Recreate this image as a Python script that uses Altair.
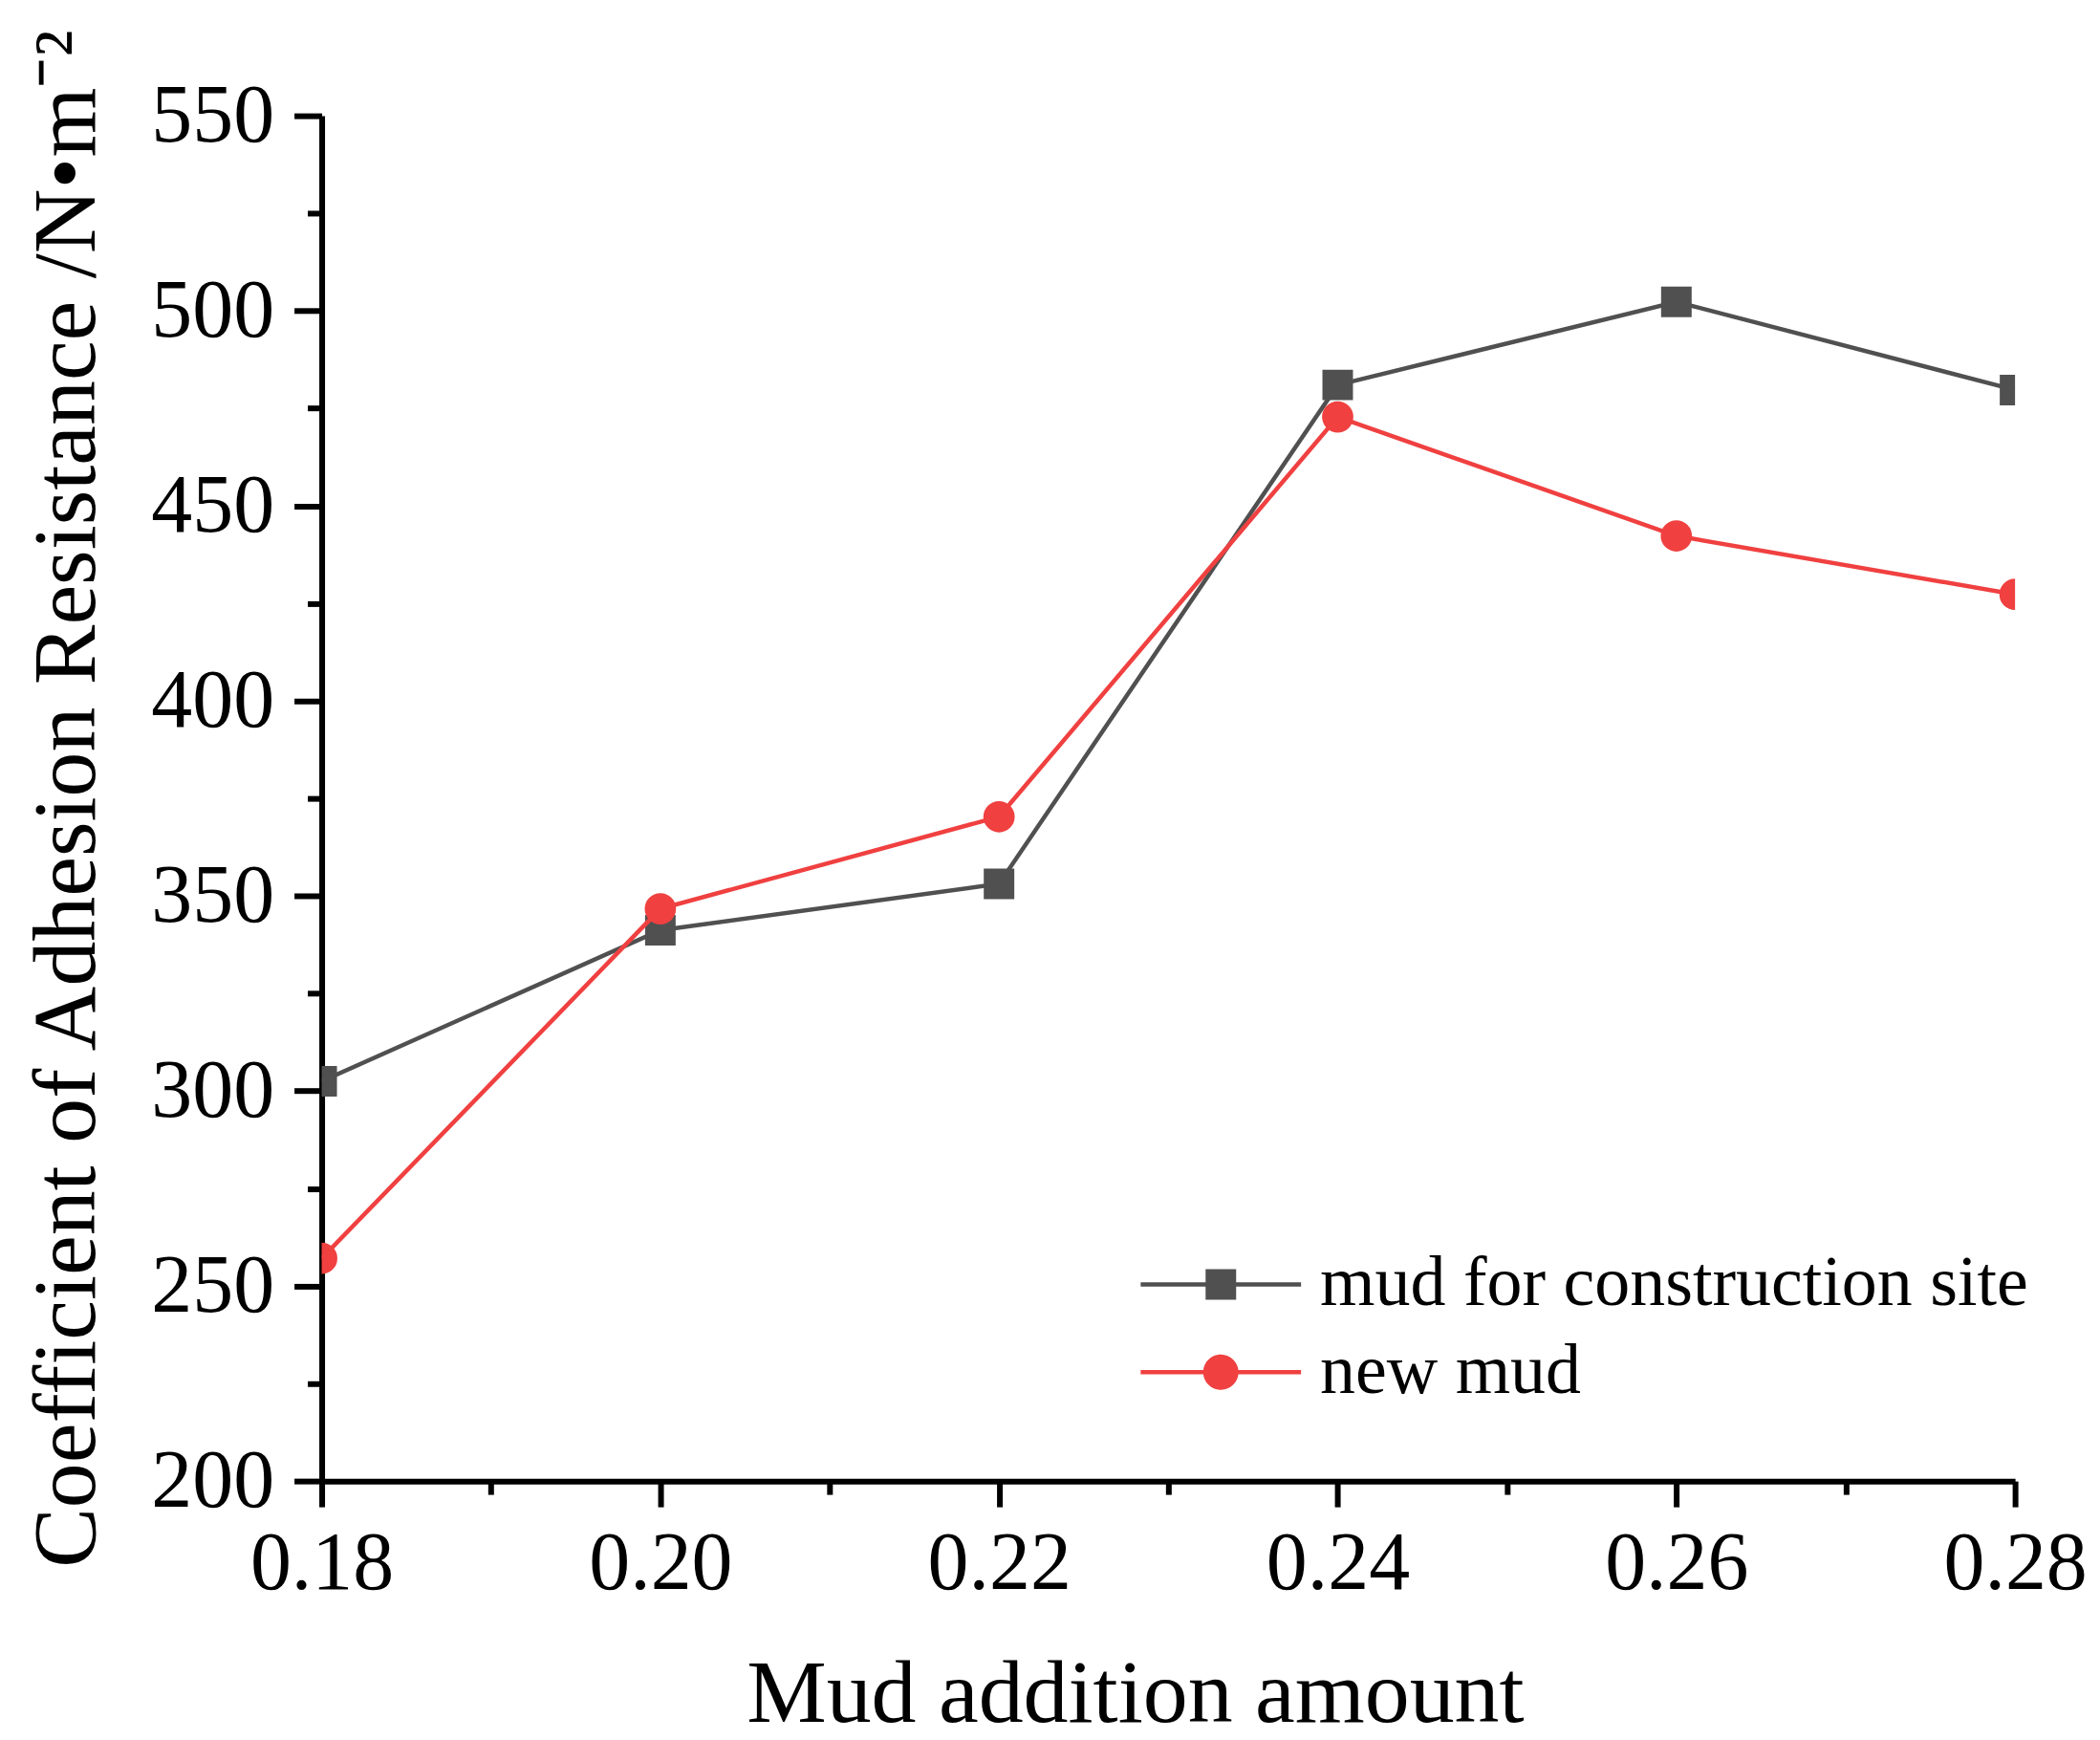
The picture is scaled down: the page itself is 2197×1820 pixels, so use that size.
import altair as alt
import pandas as pd

# ---- data ----
x_vals = [0.18, 0.20, 0.22, 0.24, 0.26, 0.28]
site_vals = [302.5, 341.2, 353.1, 481.0, 502.3, 479.7]
new_vals = [257.1, 346.7, 370.3, 472.8, 442.3, 427.3]
series_names = ["mud for construction site", "new mud"]
series_colors = ["#505050", "#F04040"]

x_major = [0.18, 0.20, 0.22, 0.24, 0.26, 0.28]
x_minor = [0.19, 0.21, 0.23, 0.25, 0.27]
y_major = [200, 250, 300, 350, 400, 450, 500, 550]
y_minor = [225, 275, 325, 375, 425, 475, 525]

x_title = "Mud addition amount"
y_title = "Coefficient of Adhesion Resistance /N\u2022m\u207b\u00b2"

df = pd.DataFrame({
    "x": x_vals + x_vals,
    "y": site_vals + new_vals,
    "series": [series_names[0]] * len(x_vals) + [series_names[1]] * len(x_vals),
})

FONT = "Liberation Serif"
color_scale = alt.Scale(domain=series_names, range=series_colors)
xs = alt.Scale(domain=[0.18, 0.28], nice=False, zero=False)
ys = alt.Scale(domain=[200, 550], nice=False, zero=False)

x_axis_main = alt.Axis(
    orient="bottom", values=x_major, format=".2f", grid=False,
    tickSize=27, tickWidth=6, tickColor="black", domainWidth=6, domainColor="black",
    labelFont=FONT, labelFontSize=86, labelColor="black", labelPadding=18,
    labelFlush=False, labelOverlap=False,
    title=x_title, titleFont=FONT, titleFontSize=94, titleFontWeight="normal",
    titleColor="black", titlePadding=48, titleX=852,
)
y_axis_main = alt.Axis(
    orient="left", values=y_major, format="d", grid=False,
    tickSize=29, tickWidth=6, tickColor="black", domainWidth=6, domainColor="black",
    labelFont=FONT, labelFontSize=86, labelColor="black", labelPadding=21,
    labelFlush=False, labelOverlap=False,
    title=y_title, titleFont=FONT, titleFontSize=94, titleFontWeight="normal",
    titleColor="black", titlePadding=39,
)
x_axis_minor = alt.Axis(orient="bottom", values=x_minor, labels=False, domain=False,
                        grid=False, tickSize=14, tickWidth=6, tickColor="black", title=None)
y_axis_minor = alt.Axis(orient="left", values=y_minor, labels=False, domain=False,
                        grid=False, tickSize=15, tickWidth=6, tickColor="black", title=None)

base = alt.Chart(df)

line_a = base.transform_filter(alt.datum.series == series_names[0]).mark_line(
    strokeWidth=4.5, clip=True).encode(
    x=alt.X("x:Q", scale=xs, axis=x_axis_main),
    y=alt.Y("y:Q", scale=ys, axis=y_axis_main),
    color=alt.Color("series:N", scale=color_scale, legend=None),
)
squares = base.transform_filter(alt.datum.series == series_names[0]).mark_square(
    size=1024, opacity=1, clip=True).encode(
    x=alt.X("x:Q", scale=xs, axis=x_axis_minor),
    y=alt.Y("y:Q", scale=ys, axis=y_axis_minor),
    color=alt.Color("series:N", scale=color_scale, legend=None),
)
line_b = base.transform_filter(alt.datum.series == series_names[1]).mark_line(
    strokeWidth=4.5, clip=True).encode(
    x=alt.X("x:Q", scale=xs, axis=None),
    y=alt.Y("y:Q", scale=ys, axis=None),
    color=alt.Color("series:N", scale=color_scale, legend=None),
)
circles = base.transform_filter(alt.datum.series == series_names[1]).mark_circle(
    size=1075, opacity=1, clip=True).encode(
    x=alt.X("x:Q", scale=xs, axis=None),
    y=alt.Y("y:Q", scale=ys, axis=None),
    color=alt.Color("series:N", scale=color_scale, legend=None),
)

# legend symbols: a line with the marker on it
p_sq = "M-4.2,-0.1125H4.2V0.1125H-4.2Z M-0.8,-0.8H0.8V0.8H-0.8Z"
p_ci = ("M-4.2,-0.1125H4.2V0.1125H-4.2Z "
        "M0.925,0A0.925,0.925 0 1,1 -0.925,0A0.925,0.925 0 1,1 0.925,0Z")
leg_def = dict(
    title=None, orient="none", legendX=905, legendY=1187,
    labelFont=FONT, labelFontSize=74, labelColor="black", labelOffset=67,
    labelLimit=2000,
    symbolSize=1600, symbolStrokeWidth=0, symbolOpacity=1, rowPadding=18, padding=0,
)
# invisible marks (zero fill/stroke opacity) that only carry the legend
legend_layer = base.mark_point(filled=True, fillOpacity=0, strokeOpacity=0, opacity=1).encode(
    x=alt.X("x:Q", scale=xs, axis=None),
    y=alt.Y("y:Q", scale=ys, axis=None),
    color=alt.Color("series:N", scale=color_scale, legend=alt.Legend(**leg_def)),
    shape=alt.Shape("series:N", scale=alt.Scale(domain=series_names, range=[p_sq, p_ci]),
                    legend=alt.Legend(**leg_def)),
)

chart = alt.layer(legend_layer, line_a, squares, line_b, circles).resolve_axis(
    x="independent", y="independent"
).properties(
    width=1774, height=1430,
    padding={"left": 16, "top": 19, "right": 5, "bottom": 5},
    background="white",
).configure_view(stroke=None)

chart.save("out.html", embed_options={"renderer": "svg", "actions": False})
